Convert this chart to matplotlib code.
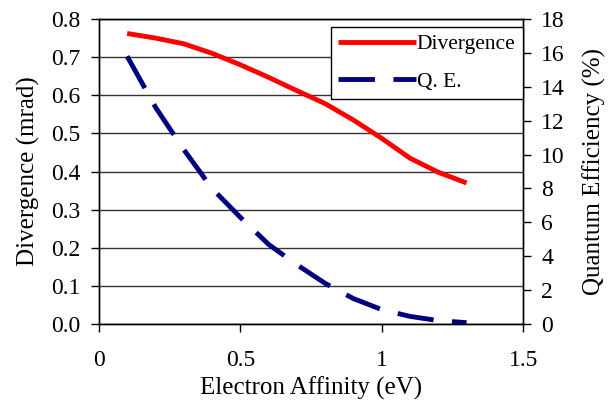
import matplotlib.pyplot as plt
import numpy as np

# data
affinity = [0.1, 0.2, 0.3, 0.4, 0.5, 0.6, 0.7, 0.8, 0.9, 1.0, 1.1, 1.2, 1.3]
divergence = [0.762, 0.750, 0.735, 0.710, 0.680, 0.647, 0.612, 0.578, 0.535,
              0.487, 0.435, 0.398, 0.370]
qe = [15.8, 12.8, 10.3, 8.0, 6.3, 4.7, 3.5, 2.4, 1.5, 0.85, 0.45, 0.2, 0.08]

xticks = [0, 0.5, 1, 1.5]
xticklabels = ['0', '0.5', '1', '1.5']

plt.rcParams['font.family'] = ['Liberation Serif', 'DejaVu Serif']

fig = plt.figure(figsize=(6.14, 4.0), dpi=100)
ax = fig.add_axes([0.161, 0.19, 0.691, 0.7625])
ax2 = ax.twinx()

l1, = ax.plot(affinity, divergence, color='#ff0000', lw=3.5, label='Divergence',
              solid_capstyle='butt')
l2, = ax2.plot(affinity, qe, color='#000080', lw=3.5, label='Q. E.',
               dashes=(7.5, 3.8), dash_capstyle='butt')

ax.set_xlim(0, 1.5)
ax.set_ylim(0, 0.8)
ax2.set_ylim(0, 18)
ax.set_xticks(xticks)
ax.set_xticklabels(xticklabels)
ax.set_yticks(np.arange(0, 0.81, 0.1))
ax.set_yticklabels(['%.1f' % v for v in np.arange(0, 0.81, 0.1)])
ax2.set_yticks(range(0, 19, 2))

ax.grid(axis='y', color='#333333', lw=1.0)
ax.set_axisbelow(True)
for a in (ax, ax2):
    a.tick_params(direction='out', length=6, width=1, labelsize=17, pad=7)
    for s in a.spines.values():
        s.set_linewidth(1.0)
ax.tick_params(axis='x', pad=13)

ax.set_xlabel('Electron Affinity (eV)', fontsize=18, labelpad=4)
ax.set_ylabel('Divergence (mrad)', fontsize=18, labelpad=8)
ax2.set_ylabel('Quantum Efficiency (%)', fontsize=18, labelpad=13)

leg = ax2.legend(handles=[l1, l2], loc='upper right', bbox_to_anchor=(1.0, 0.975),
                 fontsize=15.5, frameon=True, fancybox=False, edgecolor='black',
                 framealpha=1, borderaxespad=0, handlelength=3.6, handletextpad=0.05,
                 borderpad=0.35, labelspacing=0.8)
leg.get_frame().set_linewidth(1.0)

fig.savefig('out.png', dpi=100)
